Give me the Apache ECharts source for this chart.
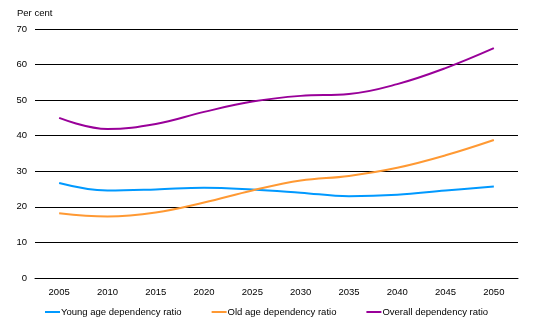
<!DOCTYPE html>
<html>
<head>
<meta charset="utf-8">
<script src="https://cdn.jsdelivr.net/npm/echarts@6/dist/echarts.min.js"></script>
<style>
  html, body { margin: 0; padding: 0; background: #fff; }
  #chart { width: 537px; height: 330px; }
</style>
</head>
<body>
<div id="chart"></div>
<script>
// Dependency ratios, 2005-2050 (per cent)
const years = ['2005', '2010', '2015', '2020', '2025', '2030', '2035', '2040', '2045', '2050'];
const youngAge = [26.7, 24.6, 24.9, 25.4, 24.9, 24.0, 23.0, 23.4, 24.6, 25.7];
const oldAge = [18.2, 17.3, 18.4, 21.2, 24.6, 27.4, 28.7, 31.0, 34.5, 38.8];
const overall = [45.0, 41.9, 43.3, 46.7, 49.6, 51.2, 51.7, 54.5, 59.0, 64.6];
const seriesNames = ['Young age dependency ratio', 'Old age dependency ratio', 'Overall dependency ratio'];
const colors = ['#0099ff', '#ff9933', '#990099'];

const font = 'Liberation Sans, Arial, sans-serif';
const chart = echarts.init(document.getElementById('chart'));

function line(name, data, color) {
  return {
    name: name,
    type: 'line',
    data: data,
    smooth: 0.4,
    showSymbol: false,
    lineStyle: { color: color, width: 2 },
    itemStyle: { color: color },
    z: 3
  };
}

chart.setOption({
  animation: false,
  backgroundColor: '#fff',
  title: {
    text: 'Per cent',
    left: 12,
    top: 3,
    textStyle: { fontFamily: font, fontSize: 9.5, fontWeight: 'normal', color: '#000' }
  },
  grid: { left: 35, right: 19, top: 29, bottom: 52, containLabel: false },
  xAxis: {
    type: 'category',
    data: years,
    boundaryGap: true,
    axisLine: { show: true, lineStyle: { color: '#000', width: 1 } },
    axisTick: { show: false },
    axisLabel: { fontFamily: font, fontSize: 9.5, color: '#000', margin: 9 }
  },
  yAxis: {
    type: 'value',
    min: 0,
    max: 70,
    interval: 10,
    axisLine: { show: false },
    axisTick: { show: false },
    axisLabel: { fontFamily: font, fontSize: 9.5, color: '#000', margin: 8 },
    splitLine: { lineStyle: { color: '#000', width: 1 } }
  },
  legend: {
    data: seriesNames,
    left: 40,
    top: 302,
    icon: 'rect',
    itemWidth: 15,
    itemHeight: 2,
    itemGap: 30,
    textStyle: { fontFamily: font, fontSize: 9.5, color: '#000', padding: [0, 0, 0, -4] }
  },
  series: [
    line(seriesNames[0], youngAge, colors[0]),
    line(seriesNames[1], oldAge, colors[1]),
    line(seriesNames[2], overall, colors[2])
  ]
});
</script>
</body>
</html>
